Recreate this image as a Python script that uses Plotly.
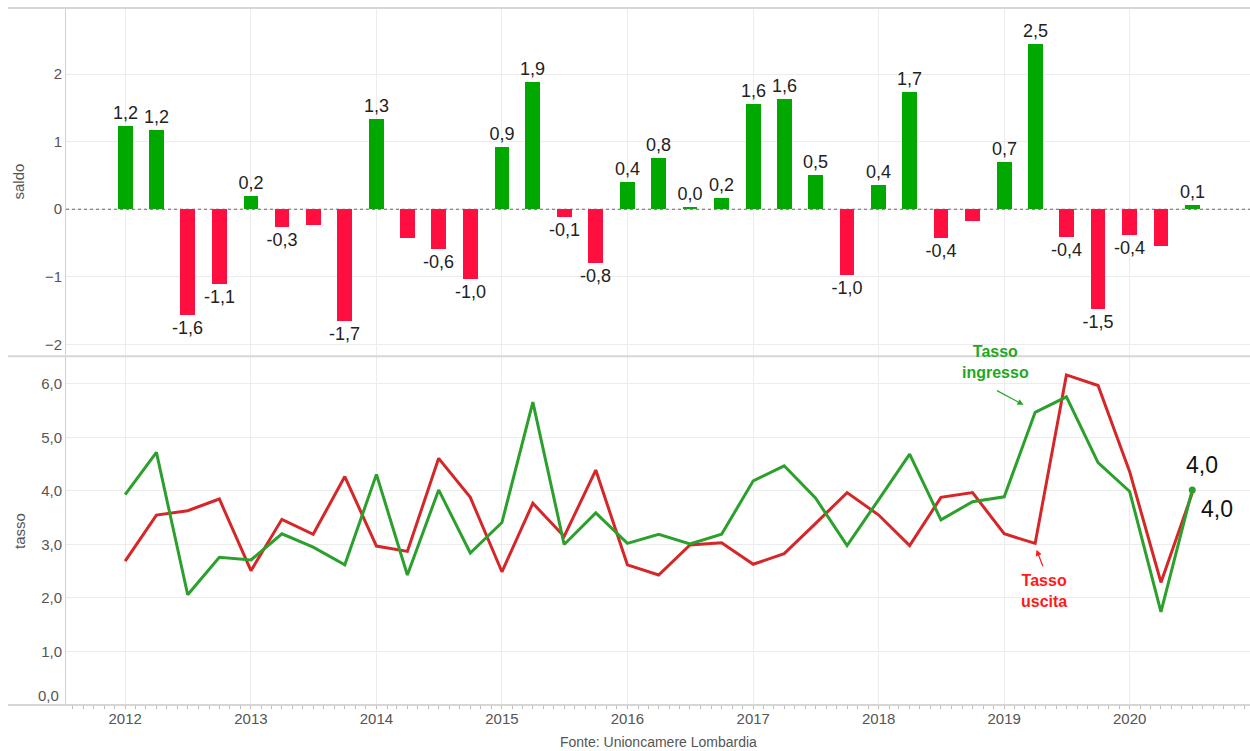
import plotly.graph_objects as go

# ---------------- data ----------------
quarters = [
    "2012-01-01", "2012-04-01", "2012-07-01", "2012-10-01",
    "2013-01-01", "2013-04-01", "2013-07-01", "2013-10-01",
    "2014-01-01", "2014-04-01", "2014-07-01", "2014-10-01",
    "2015-01-01", "2015-04-01", "2015-07-01", "2015-10-01",
    "2016-01-01", "2016-04-01", "2016-07-01", "2016-10-01",
    "2017-01-01", "2017-04-01", "2017-07-01", "2017-10-01",
    "2018-01-01", "2018-04-01", "2018-07-01", "2018-10-01",
    "2019-01-01", "2019-04-01", "2019-07-01", "2019-10-01",
    "2020-01-01", "2020-04-01", "2020-07-01",
]

saldo = [1.23, 1.18, -1.57, -1.10, 0.19, -0.26, -0.24, -1.66,
         1.34, -0.43, -0.59, -1.04, 0.92, 1.89, -0.11, -0.80,
         0.41, 0.76, 0.03, 0.17, 1.56, 1.63, 0.51, -0.98,
         0.36, 1.73, -0.43, -0.17, 0.70, 2.45, -0.41, -1.47,
         -0.38, -0.54, 0.07]

# which bar labels are displayed (some are hidden in the original)
saldo_label_shown = [1, 1, 1, 1, 1, 1, 0, 1,
                     1, 0, 1, 1, 1, 1, 1, 1,
                     1, 1, 1, 1, 1, 1, 1, 1,
                     1, 1, 1, 0, 1, 1, 1, 1,
                     1, 0, 1]

tasso_ingresso = [3.93, 4.72, 2.06, 2.76, 2.71, 3.20, 2.95, 2.62,
                  4.31, 2.43, 4.02, 2.84, 3.41, 5.66, 3.00, 3.59,
                  3.02, 3.19, 3.01, 3.19, 4.19, 4.47, 3.87, 2.98,
                  3.84, 4.69, 3.46, 3.80, 3.89, 5.47, 5.76, 4.53,
                  3.99, 1.74, 4.02]

tasso_uscita = [2.69, 3.55, 3.63, 3.85, 2.51, 3.47, 3.19, 4.27,
                2.97, 2.87, 4.61, 3.88, 2.49, 3.77, 3.15, 4.39,
                2.62, 2.43, 2.99, 3.03, 2.63, 2.83, 3.39, 3.97,
                3.55, 2.98, 3.88, 3.97, 3.20, 3.02, 6.17, 5.97,
                4.36, 2.29, 3.96]

year_ticks = ["2012-01-01", "2013-01-01", "2014-01-01", "2015-01-01", "2016-01-01",
              "2017-01-01", "2018-01-01", "2019-01-01", "2020-01-01"]
year_labels = ["2012", "2013", "2014", "2015", "2016", "2017", "2018", "2019", "2020"]

saldo_ticks = [-2, -1, 0, 1, 2]
tasso_ticks = [1, 2, 3, 4, 5, 6]   # 0,0 label drawn separately (lifted above the axis)

# ---------------- styling ----------------
GREEN_BAR = "#00a800"
RED_BAR = "#ff0f3f"
GREEN_LINE = "#2ca02c"
RED_LINE = "#d62728"
GRID = "#ececec"
TICKC = "#555555"
FONT = "Liberation Sans, Arial, sans-serif"


def fmt(v):
    return f"{v:.1f}".replace(".", ",")


bar_colors = [GREEN_BAR if v >= 0 else RED_BAR for v in saldo]
bar_text = [fmt(v) if s else "" for v, s in zip(saldo, saldo_label_shown)]

fig = go.Figure()

fig.add_trace(go.Bar(
    x=quarters, y=saldo, xaxis="x2", yaxis="y2",
    marker=dict(color=bar_colors, line=dict(width=0)),
    width=43 * 86400000,
    text=bar_text, textposition="outside", constraintext="none",
    textfont=dict(family=FONT, size=18, color="#222222"),
    cliponaxis=False, showlegend=False, hoverinfo="x+y",
))

fig.add_trace(go.Scatter(
    x=quarters, y=tasso_uscita, xaxis="x", yaxis="y", mode="lines",
    line=dict(color=RED_LINE, width=3), showlegend=False,
))
fig.add_trace(go.Scatter(
    x=quarters, y=tasso_ingresso, xaxis="x", yaxis="y", mode="lines",
    line=dict(color=GREEN_LINE, width=3), showlegend=False,
))
fig.add_trace(go.Scatter(
    x=[quarters[-1]], y=[tasso_ingresso[-1]], xaxis="x", yaxis="y", mode="markers",
    marker=dict(color=GREEN_LINE, size=7), showlegend=False, cliponaxis=False,
))

xrange = ["2011-07-13", "2020-12-16"]

fig.update_layout(
    width=1250, height=751,
    margin=dict(l=66, r=0, t=8, b=46),
    paper_bgcolor="white", plot_bgcolor="white",
    separators=",.",
    font=dict(family=FONT, color=TICKC, size=14),
    bargap=0,
    xaxis=dict(
        domain=[0, 1], anchor="y", type="date", range=xrange,
        tickvals=year_ticks, ticktext=year_labels,
        showgrid=True, gridcolor=GRID, gridwidth=1,
        ticks="", showline=True, linecolor="#d0d0d0", linewidth=1,
        tickfont=dict(size=15, color=TICKC),
        minor=dict(ticks="outside", dtick="M1", ticklen=3, tickcolor="#bbbbbb", showgrid=False),
    ),
    yaxis=dict(
        domain=[0, 0.499], anchor="x", range=[0, 6.5],
        tickvals=tasso_ticks, tickformat=".1f",
        showgrid=True, gridcolor=GRID, zeroline=False,
        showline=True, linecolor="#d0d0d0", ticks="",
        tickfont=dict(size=15, color=TICKC),
        title=dict(text="tasso", font=dict(size=15, color=TICKC), standoff=11),
    ),
    xaxis2=dict(
        domain=[0, 1], anchor="y2", type="date", range=xrange, matches="x",
        tickvals=year_ticks, showticklabels=False,
        showgrid=True, gridcolor=GRID, ticks="", showline=False,
    ),
    yaxis2=dict(
        domain=[0.502, 1], anchor="x2", range=[-2.16, 2.98],
        tickvals=saldo_ticks,
        showgrid=True, gridcolor=GRID, zeroline=False,
        showline=True, linecolor="#d0d0d0", ticks="",
        tickfont=dict(size=15, color=TICKC),
        title=dict(text="saldo", font=dict(size=15, color=TICKC), standoff=16),
    ),
)

# separator / border lines and dotted zero line
x_left = (8 - 66) / 1184
fig.add_shape(type="line", xref="paper", yref="paper", x0=x_left, x1=1, y0=1, y1=1,
              line=dict(color="#d6d6d6", width=2))
fig.add_shape(type="line", xref="paper", yref="paper", x0=x_left, x1=1, y0=0.5005, y1=0.5005,
              line=dict(color="#d6d6d6", width=2))
fig.add_shape(type="line", xref="paper", yref="paper", x0=x_left, x1=1, y0=0, y1=0,
              line=dict(color="#d6d6d6", width=2))
fig.add_shape(type="line", xref="x2 domain", yref="y2", x0=0, x1=1, y0=0, y1=0,
              line=dict(color="#666666", width=1, dash="dot"))

# 0,0 tick label lifted above the axis line
fig.add_annotation(x=0, y=0, xref="x domain", yref="y", text="0,0", showarrow=False,
                   xanchor="right", xshift=-5, yshift=9,
                   font=dict(family=FONT, size=15, color=TICKC))

# annotations
fig.add_annotation(x="2018-12-08", y=6.41, xref="x", yref="y", text="<b>Tasso<br>ingresso</b>",
                   showarrow=False, font=dict(family=FONT, size=16, color="#22a822"))
fig.add_annotation(x="2019-02-26", y=5.61, xref="x", yref="y", text="", showarrow=True,
                   ax=-28, ay=-15, arrowhead=2, arrowsize=1, arrowwidth=1.2, arrowcolor="#22a822")
fig.add_annotation(x="2019-04-27", y=2.13, xref="x", yref="y", text="<b>Tasso<br>uscita</b>",
                   showarrow=False, font=dict(family=FONT, size=16, color="#ff1a1a"))
fig.add_annotation(x="2019-04-05", y=2.90, xref="x", yref="y", text="", showarrow=True,
                   ax=7, ay=18, arrowhead=2, arrowsize=1, arrowwidth=1.2, arrowcolor="#ff1a1a")

fig.add_annotation(x=quarters[-1], y=tasso_ingresso[-1], xref="x", yref="y",
                   text=fmt(tasso_ingresso[-1]), showarrow=False, xshift=10, yshift=25,
                   font=dict(family=FONT, size=23, color="#111111"))
fig.add_annotation(x=quarters[-1], y=tasso_uscita[-1], xref="x", yref="y",
                   text=fmt(tasso_uscita[-1]), showarrow=False, xshift=25, yshift=-16,
                   font=dict(family=FONT, size=23, color="#111111"))

fig.add_annotation(x=0.5, y=0, xref="paper", yref="paper", yanchor="middle", yshift=-37,
                   text="Fonte: Unioncamere Lombardia", showarrow=False,
                   font=dict(family=FONT, size=14, color=TICKC))

fig.write_html("out.html",
               config={"displayModeBar": False},
               post_script="document.body.style.margin='0';document.body.style.overflow='hidden';")
